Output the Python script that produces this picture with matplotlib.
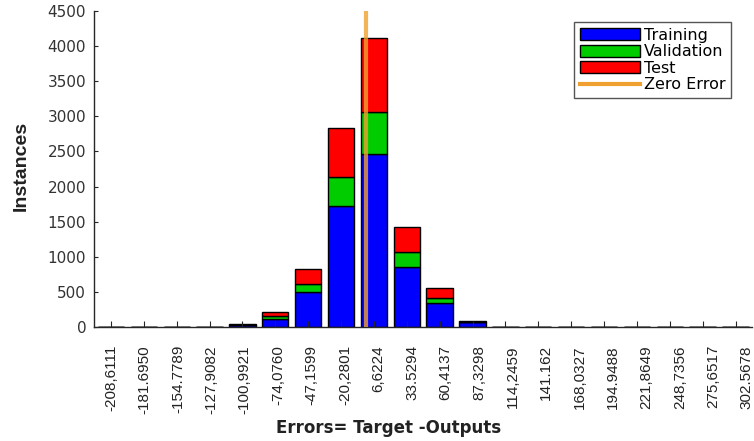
import matplotlib

matplotlib.use("Agg")
import matplotlib.pyplot as plt
import numpy as np
from matplotlib.lines import Line2D
from matplotlib.patches import Patch

# bin centre labels as printed under the axis
bin_labels = [
    "-208,6111", "-181.6950", "-154.7789", "-127,9082", "-100,9921",
    "-74,0760", "-47,1599", "-20,2801", "6,6224", "33.5294",
    "60,4137", "87,3298", "114,2459", "141.162", "168,0327",
    "194.9488", "221,8649", "248,7356", "275,6517", "302.5678",
]
# instances per bin
training = [0, 0, 0, 0, 26, 120, 495, 1725, 2470, 855, 342, 68, 0, 0, 0, 0, 0, 0, 0, 0]
validation = [0, 0, 0, 0, 6, 40, 120, 410, 595, 213, 76, 8, 0, 0, 0, 0, 0, 0, 0, 0]
test = [0, 0, 0, 0, 6, 50, 210, 700, 1045, 356, 142, 8, 0, 0, 0, 0, 0, 0, 0, 0]
zero_error = 0.0

centers = np.array([float(s.replace(",", ".")) for s in bin_labels])
bin_w = (centers[-1] - centers[0]) / (len(centers) - 1)

fig = plt.figure(figsize=(7.54, 4.41), dpi=100)
ax = fig.add_axes([0.1253, 0.2585, 0.872, 0.7166])

tr = np.array(training)
va = np.array(validation)
te = np.array(test)
kw = dict(width=0.8 * bin_w, edgecolor="black", linewidth=1.0)
ax.bar(centers, tr, color="#0000FF", **kw)
ax.bar(centers, va, bottom=tr, color="#00CC00", **kw)
ax.bar(centers, te, bottom=tr + va, color="#FF0000", **kw)
ax.axvline(zero_error, color="#F0A030", linewidth=3, alpha=0.8, zorder=5)

ax.set_xlim(centers[0] - 0.5 * bin_w, centers[-1] + 0.5 * bin_w)
ax.set_ylim(0, 4500)
ax.set_yticks(np.arange(0, 4501, 500))
for s in ["top", "right"]:
    ax.spines[s].set_visible(False)
for s in ["left", "bottom"]:
    ax.spines[s].set_color("#262626")
    ax.spines[s].set_linewidth(1.0)

ax.tick_params(axis="y", direction="in", length=3, labelsize=11,
               labelcolor="#333333", color="#262626", pad=6)
ax.tick_params(axis="x", which="major", direction="in", length=4,
               color="#262626", labelbottom=False)

# labels spread a little wider than the ticks, as in the picture
ax.xaxis.remove_overlapping_locs = False
label_pos = centers[0] + (centers - centers[0]) * 1.018
ax.set_xticks(centers)
ax.set_xticks(label_pos, minor=True)
ax.set_xticklabels(bin_labels, minor=True, rotation=90,
                   family="Liberation Sans", fontsize=11, color="#222222")
ax.tick_params(axis="x", which="minor", length=0, pad=13)

ax.set_ylabel("Instances", family="Liberation Sans", fontsize=14,
              fontweight="bold", color="#222222", labelpad=4)
ax.yaxis.set_label_coords(-0.098, 0.51)
fig.text(389 / 754, 1 - 428 / 441, "Errors= Target -Outputs", ha="center",
         va="center", fontsize=12, fontweight="bold", color="#222222")

handles = [
    Patch(facecolor="#0000FF", edgecolor="black", label="Training"),
    Patch(facecolor="#00CC00", edgecolor="black", label="Validation"),
    Patch(facecolor="#FF0000", edgecolor="black", label="Test"),
    Line2D([], [], color="#F0A030", linewidth=3, label="Zero Error"),
]
leg = ax.legend(handles=handles, loc="upper left",
                bbox_to_anchor=(574 / 754, 1 - 22 / 441),
                bbox_transform=fig.transFigure, borderaxespad=0,
                fontsize=11.5, handlelength=3.8, handleheight=0.8,
                handletextpad=0.25, labelspacing=0.1, borderpad=0.35,
                fancybox=False, framealpha=1, edgecolor="#555555")
leg.get_frame().set_linewidth(1.0)

fig.savefig("out.png", dpi=100)
